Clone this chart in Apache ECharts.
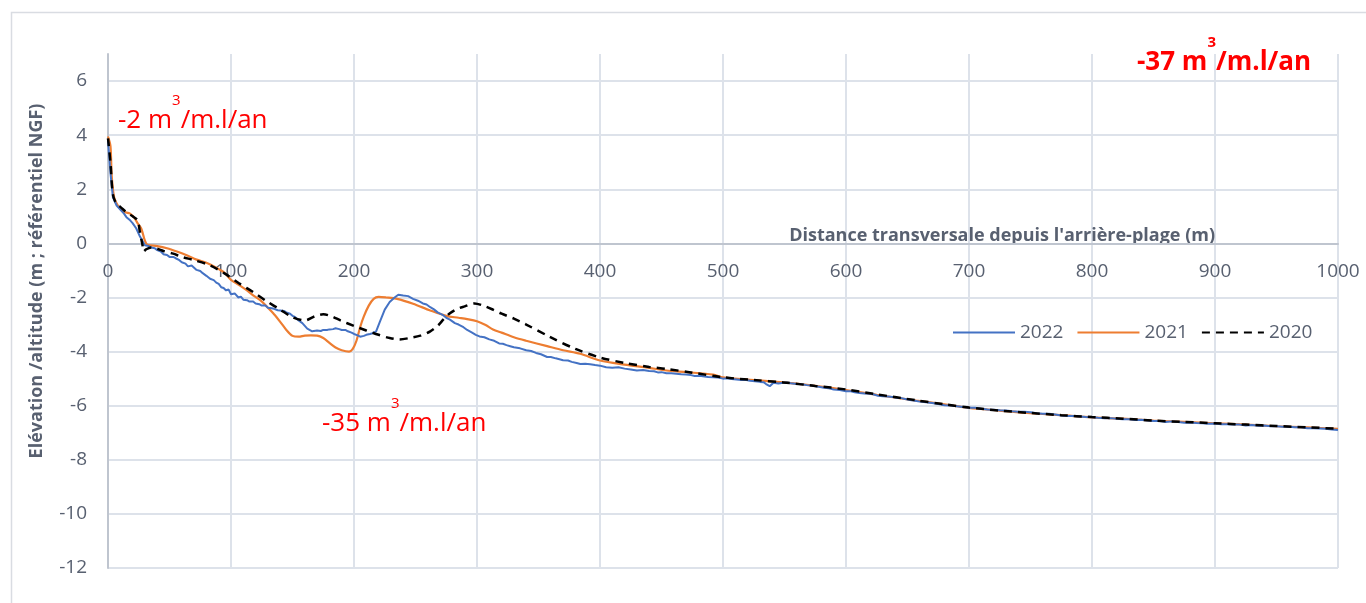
<!DOCTYPE html>
<html><head><meta charset="utf-8">
<script src="https://cdn.jsdelivr.net/npm/echarts@6/dist/echarts.min.js"></script>
<style>html,body{margin:0;padding:0;background:#fff}#c{width:1366px;height:603px}</style>
</head><body><div id="c"></div>
<script>
const FONT = '"Open Sans", Lato, sans-serif';
const xTicks = [0, 100, 200, 300, 400, 500, 600, 700, 800, 900, 1000];
const yTicks = [-12, -10, -8, -6, -4, -2, 0, 2, 4, 6];
const seriesNames = ['2022', '2021', '2020'];

const p2022 = [[0,3.8],[2,2.6],[4,1.7],[7,1.4],[10,1.25],[13,1.1],[15,0.97],[18,0.85],[20,0.75],[23,0.55],[26,0.25],[30,-0.07],[33,-0.1],[35,-0.15],[38,-0.18],[40,-0.25],[43,-0.3],[45,-0.4],[48,-0.43],[50,-0.5],[53,-0.5],[55,-0.55],[58,-0.62],[60,-0.7],[63,-0.75],[65,-0.85],[68,-0.82],[72,-0.98],[75,-1.02],[77,-1.1],[80,-1.2],[83,-1.31],[86,-1.36],[88,-1.45],[90,-1.5],[92,-1.62],[94,-1.65],[96,-1.74],[98,-1.7],[100,-1.88],[103,-1.85],[106,-2.0],[108,-1.97],[110,-2.08],[113,-2.1],[115,-2.15],[118,-2.15],[120,-2.22],[123,-2.25],[125,-2.3],[128,-2.3],[130,-2.38],[133,-2.4],[135,-2.42],[138,-2.47],[140,-2.48],[143,-2.5],[145,-2.55],[148,-2.6],[150,-2.68],[152,-2.72],[155,-2.85],[158,-2.95],[160,-3.05],[162,-3.15],[166,-3.25],[170,-3.22],[173,-3.24],[175,-3.2],[178,-3.2],[180,-3.18],[183,-3.17],[185,-3.14],[188,-3.17],[190,-3.2],[193,-3.2],[195,-3.25],[198,-3.3],[200,-3.35],[203,-3.4],[205,-3.45],[208,-3.42],[210,-3.38],[213,-3.35],[215,-3.32],[218,-3.25],[221,-2.9],[225,-2.45],[229,-2.17],[233,-2.0],[236,-1.9],[240,-1.93],[244,-1.95],[248,-2.05],[252,-2.12],[256,-2.22],[259,-2.26],[262,-2.36],[265,-2.44],[268,-2.55],[272,-2.64],[275,-2.75],[278,-2.82],[282,-2.95],[285,-3.0],[289,-3.1],[292,-3.2],[296,-3.3],[299,-3.38],[302,-3.44],[306,-3.47],[310,-3.55],[314,-3.6],[318,-3.7],[321,-3.71],[324,-3.76],[327,-3.8],[330,-3.84],[335,-3.88],[340,-3.95],[344,-3.98],[348,-4.05],[352,-4.1],[357,-4.2],[360,-4.2],[364,-4.25],[370,-4.32],[374,-4.33],[377,-4.38],[381,-4.42],[384,-4.46],[388,-4.45],[392,-4.47],[396,-4.5],[400,-4.52],[405,-4.58],[410,-4.6],[415,-4.58],[420,-4.63],[425,-4.66],[430,-4.7],[435,-4.68],[440,-4.72],[444,-4.73],[447,-4.77],[450,-4.76],[454,-4.8],[458,-4.8],[462,-4.82],[466,-4.84],[470,-4.85],[474,-4.87],[477,-4.9],[481,-4.89],[485,-4.92],[488,-4.94],[492,-4.95],[496,-4.96],[500,-5.0],[503,-4.99],[507,-5.01],[511,-5.03],[515,-5.05],[519,-5.05],[522,-5.08],[526,-5.1],[530,-5.12],[533,-5.13],[535,-5.2],[538,-5.28],[541,-5.15],[545,-5.18],[549,-5.15],[552,-5.14],[555,-5.17],[560,-5.2],[564,-5.21],[568,-5.24],[572,-5.25],[575,-5.28],[578,-5.3],[582,-5.34],[586,-5.36],[590,-5.4],[595,-5.42],[600,-5.47],[604,-5.47],[607,-5.5],[611,-5.53],[615,-5.55],[619,-5.56],[622,-5.58],[626,-5.63],[630,-5.65],[634,-5.66],[638,-5.68],[642,-5.72],[645,-5.72],[649,-5.76],[652,-5.79],[656,-5.82],[660,-5.85],[665,-5.87],[670,-5.9],[675,-5.94],[680,-5.98],[685,-5.99],[690,-6.02],[695,-6.05],[700,-6.08],[705,-6.08],[710,-6.11],[715,-6.14],[720,-6.15],[725,-6.17],[730,-6.18],[735,-6.21],[740,-6.22],[745,-6.22],[750,-6.24],[755,-6.28],[760,-6.3],[765,-6.3],[770,-6.33],[775,-6.36],[780,-6.38],[785,-6.38],[790,-6.4],[795,-6.42],[800,-6.43],[805,-6.45],[810,-6.46],[815,-6.46],[820,-6.48],[825,-6.5],[830,-6.5],[835,-6.53],[840,-6.52],[845,-6.55],[850,-6.57],[855,-6.57],[860,-6.6],[865,-6.58],[870,-6.6],[875,-6.63],[880,-6.62],[885,-6.64],[890,-6.65],[895,-6.67],[900,-6.66],[905,-6.69],[910,-6.69],[915,-6.7],[920,-6.7],[925,-6.73],[930,-6.71],[935,-6.74],[940,-6.73],[945,-6.76],[950,-6.76],[955,-6.78],[960,-6.78],[965,-6.8],[970,-6.8],[975,-6.83],[980,-6.83],[985,-6.84],[990,-6.85],[995,-6.88],[1000,-6.9]];

const p2021 = [[0,3.95],[2,3.6],[3,2.5],[5,1.7],[8,1.4],[12,1.18],[18,1.1],[21,0.97],[24,0.75],[27,0.55],[30,0.1],[32,-0.05],[40,-0.1],[48,-0.18],[56,-0.3],[64,-0.44],[72,-0.6],[80,-0.72],[88,-0.9],[95,-1.1],[100,-1.35],[107,-1.55],[113,-1.74],[118,-1.92],[124,-2.11],[130,-2.38],[135,-2.62],[140,-2.9],[145,-3.2],[150,-3.42],[155,-3.45],[160,-3.41],[165,-3.4],[170,-3.41],[175,-3.5],[180,-3.68],[185,-3.85],[190,-3.95],[196,-4.0],[199,-3.9],[202,-3.6],[205,-3.1],[208,-2.7],[212,-2.3],[216,-2.05],[220,-1.98],[226,-2.0],[235,-2.05],[248,-2.23],[262,-2.48],[275,-2.68],[285,-2.75],[292,-2.8],[300,-2.88],[307,-3.02],[313,-3.18],[320,-3.3],[330,-3.47],[340,-3.6],[357,-3.8],[370,-3.95],[384,-4.08],[400,-4.33],[420,-4.48],[440,-4.6],[454,-4.7],[470,-4.76],[492,-4.85],[500,-4.95],[525,-5.05],[549,-5.14],[575,-5.27],[600,-5.42],[625,-5.6],[657,-5.81],[680,-5.95],[700,-6.08],[725,-6.18],[750,-6.28],[775,-6.35],[800,-6.43],[825,-6.48],[850,-6.55],[875,-6.6],[900,-6.65],[925,-6.7],[950,-6.76],[975,-6.8],[1000,-6.86]];

const p2020 = [[0,3.88],[2,3.0],[4,1.8],[7,1.45],[10,1.35],[15,1.15],[20,1.0],[24,0.85],[26,0.4],[28,-0.05],[29,-0.3],[31,-0.22],[35,-0.15],[40,-0.2],[45,-0.28],[53,-0.38],[60,-0.5],[70,-0.62],[83,-0.81],[95,-1.12],[107,-1.49],[118,-1.8],[128,-2.11],[140,-2.45],[150,-2.73],[160,-2.85],[168,-2.7],[175,-2.62],[182,-2.7],[189,-2.85],[200,-3.05],[210,-3.22],[220,-3.38],[229,-3.5],[237,-3.55],[245,-3.5],[254,-3.41],[262,-3.25],[268,-3.05],[273,-2.8],[278,-2.58],[284,-2.42],[290,-2.33],[298,-2.22],[305,-2.3],[313,-2.45],[320,-2.6],[330,-2.78],[340,-3.0],[359,-3.45],[380,-3.9],[400,-4.22],[420,-4.42],[440,-4.57],[454,-4.64],[475,-4.78],[500,-4.95],[525,-5.05],[549,-5.14],[575,-5.27],[600,-5.4],[625,-5.58],[657,-5.8],[680,-5.95],[700,-6.07],[725,-6.18],[750,-6.27],[775,-6.35],[800,-6.42],[825,-6.48],[850,-6.55],[875,-6.6],[900,-6.65],[925,-6.7],[950,-6.75],[975,-6.8],[1000,-6.85]];

const annotations = [
  {value: '-2', sup: '3', unit: '/m.l/an', bold: false},
  {value: '-35', sup: '3', unit: '/m.l/an', bold: false},
  {value: '-37', sup: '3', unit: '/m.l/an', bold: true}
];
const annPos = [[118, 93], [322, 396], [1137, 35]];

const TXT = '#586070';
const GRID = '#dde2ea';
const Y_MIN = -12, Y_MAX = 7;
const GRID_TOP = 54, GRID_BOTTOM = 35, H = 603;
const plotH = H - GRID_TOP - GRID_BOTTOM;
const zeroOffset = -plotH * (0 - Y_MIN) / (Y_MAX - Y_MIN);

const chart = echarts.init(document.getElementById('c'));
const splitColors = yTicks.map(() => GRID).concat(['rgba(0,0,0,0)']);

function annText(a, i) {
  const base = {fontFamily: FONT, fontSize: 26, fill: '#ff0000', lineHeight: 56};
  const sup = {fontFamily: FONT, fontSize: 15, fill: '#ff0000', lineHeight: 18, verticalAlign: 'top'};
  if (a.bold) { base.fontWeight = 'bold'; sup.fontWeight = 'bold'; }
  return {
    type: 'text', left: annPos[i][0], top: annPos[i][1], z: 100,
    style: {
      text: '{a|' + a.value + ' m}{s|' + a.sup + '}{a|' + a.unit + '}',
      rich: {a: base, s: sup}
    }
  };
}

chart.setOption({
  animation: false,
  textStyle: {fontFamily: FONT},
  grid: {left: 108, right: 28, top: GRID_TOP, bottom: GRID_BOTTOM},
  legend: {
    data: seriesNames, left: 947, top: 318, itemWidth: 62, itemHeight: 14, itemGap: 13,
    itemStyle: {opacity: 0},
    textStyle: {fontSize: 19, color: TXT, fontFamily: FONT}
  },
  xAxis: {
    type: 'value', min: 0, max: 1000, interval: 100, position: 'bottom', offset: zeroOffset,
    axisLine: {onZero: false, lineStyle: {color: '#bfc5cf', width: 2}},
    axisTick: {show: false},
    axisLabel: {fontSize: 19, color: TXT, margin: 19, fontFamily: FONT, formatter: v => String(v)},
    splitLine: {show: true, lineStyle: {color: GRID, width: 2}},
    name: "Distance transversale depuis l'arrière-plage (m)",
    nameLocation: 'end', nameGap: -123,
    nameTextStyle: {fontSize: 18, fontWeight: 'bold', color: TXT, align: 'right', verticalAlign: 'bottom', lineHeight: 15, fontFamily: FONT}
  },
  yAxis: {
    type: 'value', min: Y_MIN, max: Y_MAX, interval: 2,
    axisLine: {show: true, onZero: false, lineStyle: {color: '#bfc5cf', width: 2}},
    axisTick: {show: false},
    axisLabel: {fontSize: 19, color: TXT, margin: 21, showMaxLabel: false, fontFamily: FONT},
    splitLine: {show: true, lineStyle: {color: splitColors, width: 2}},
    name: 'Elévation /altitude (m ; référentiel NGF)',
    nameLocation: 'middle', nameGap: 62,
    nameTextStyle: {fontSize: 18, fontWeight: 'bold', color: TXT, padding: [0, 0, 0, 60], fontFamily: FONT}
  },
  series: [
    {name: '2022', type: 'line', data: p2022, showSymbol: false, symbol: 'none', lineStyle: {color: '#4472C4', width: 2}, itemStyle: {color: '#4472C4'}, z: 3},
    {name: '2021', type: 'line', data: p2021, showSymbol: false, symbol: 'none', smooth: 0.3, lineStyle: {color: '#ED7D31', width: 2.2}, itemStyle: {color: '#ED7D31'}, z: 2},
    {name: '2020', type: 'line', data: p2020, showSymbol: false, symbol: 'none', smooth: 0.3, lineStyle: {color: '#000000', width: 2.5, type: [8, 6]}, itemStyle: {color: '#000000'}, z: 4}
  ],
  graphic: [
    {type: 'rect', left: 9, top: 10, z: -10, silent: true, shape: {width: 1400, height: 640}, style: {fill: 'none', stroke: '#d9dce2', lineWidth: 1.5}}
  ].concat(annotations.map(annText))
});
</script></body></html>
